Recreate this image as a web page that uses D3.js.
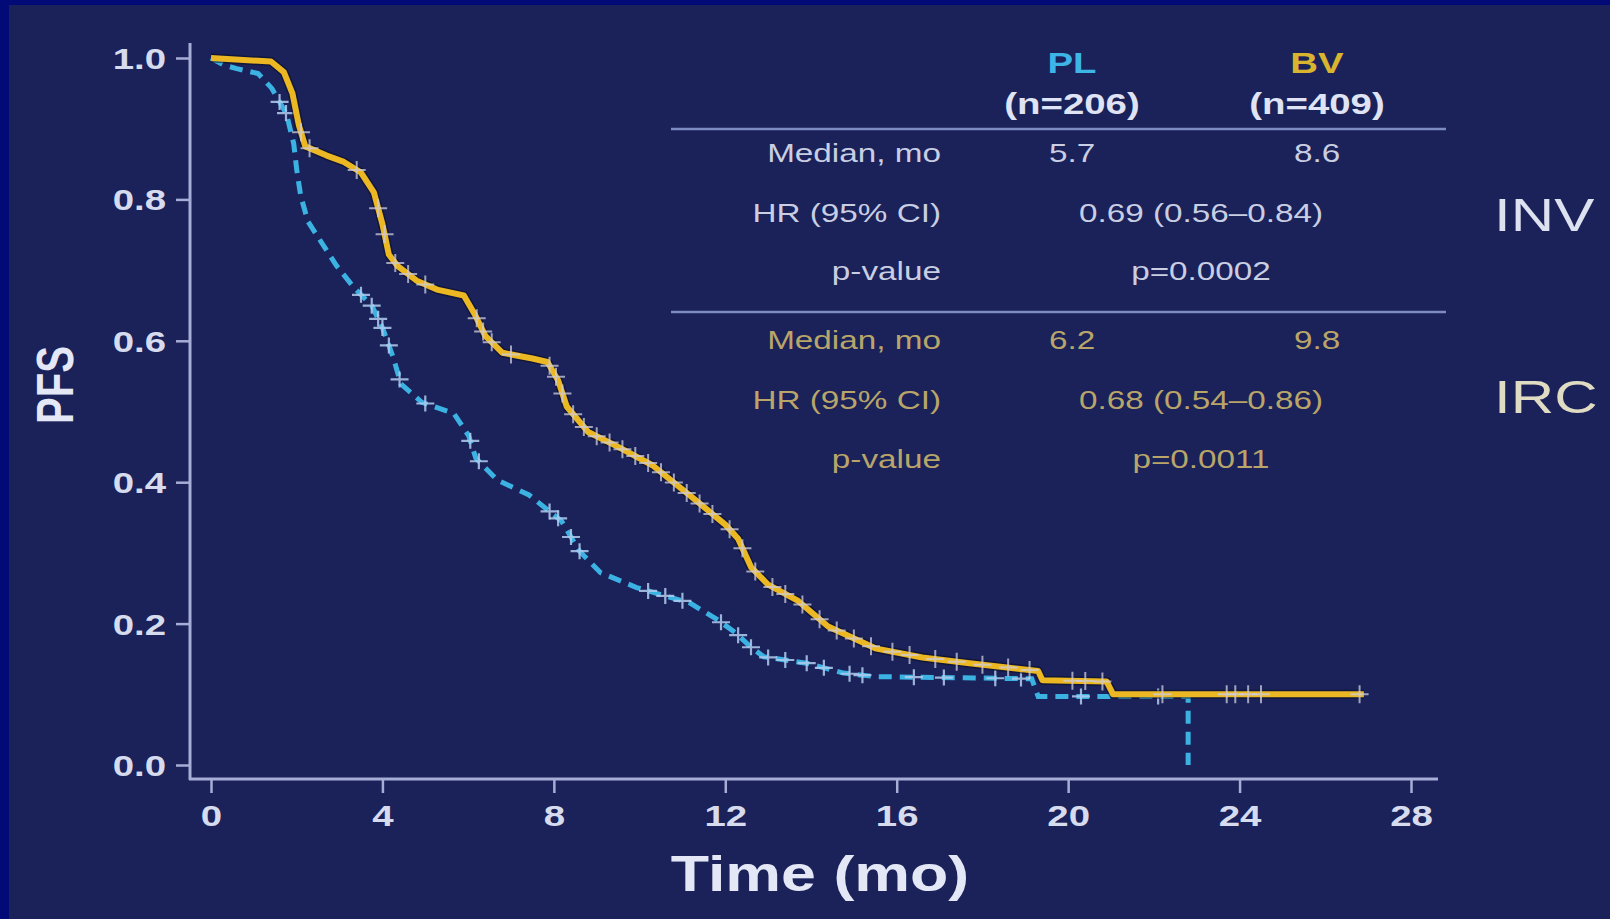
<!DOCTYPE html>
<html><head><meta charset="utf-8">
<script src="https://cdn.jsdelivr.net/npm/d3@7"></script>
<style>
body{margin:0;background:#1a2259;overflow:hidden}
text{font-family:"Liberation Sans",Arial,sans-serif}
</style>
</head><body>
<svg id="c" width="1610" height="919"></svg>
<script>
// ---------- data ----------
const bvTime = [0, 1.4, 1.7, 1.9, 2.05, 2.2, 2.7, 3.1, 3.5, 3.8, 4.0, 4.15, 4.35, 4.8, 5.3, 5.9, 6.15, 6.4, 6.8, 7.5, 7.85, 8.1, 8.3, 8.8, 9.5, 10.3, 11.2, 12.0, 12.3, 12.6, 13.0, 13.7, 14.4, 15.5, 16.6, 17.7, 19.3, 19.4, 20.9, 21.05, 26.9];
const bvSurv = [1.0, 0.995, 0.98, 0.95, 0.905, 0.875, 0.862, 0.853, 0.838, 0.81, 0.765, 0.722, 0.706, 0.685, 0.672, 0.664, 0.638, 0.607, 0.583, 0.575, 0.57, 0.544, 0.507, 0.471, 0.45, 0.424, 0.38, 0.34, 0.32, 0.28, 0.255, 0.232, 0.196, 0.165, 0.152, 0.144, 0.133, 0.12, 0.118, 0.10, 0.10];
const plTime = [0, 0.3, 0.6, 1.1, 1.42, 1.76, 1.93, 2.0, 2.09, 2.26, 2.59, 2.93, 3.34, 3.76, 4.01, 4.26, 4.43, 4.92, 5.67, 6.01, 6.18, 6.68, 7.42, 8.18, 8.59, 9.09, 9.93, 11.18, 11.83, 12.26, 12.59, 12.9, 13.9, 14.76, 15.5, 19.15, 19.3, 22.8, 22.8];
const plSurv = [1.0, 0.99, 0.985, 0.978, 0.957, 0.921, 0.879, 0.842, 0.806, 0.769, 0.738, 0.706, 0.675, 0.649, 0.617, 0.575, 0.539, 0.513, 0.497, 0.466, 0.434, 0.403, 0.382, 0.345, 0.303, 0.272, 0.251, 0.229, 0.205, 0.186, 0.167, 0.153, 0.144, 0.13, 0.125, 0.122, 0.097, 0.097, 0.0];
const bvCensor = [2.1, 2.3, 3.4, 3.9, 4.05, 4.3, 4.6, 5.0, 6.2, 6.35, 6.55, 7.0, 7.9, 8.05, 8.2, 8.45, 8.7, 9.0, 9.3, 9.6, 9.9, 10.2, 10.5, 10.8, 11.1, 11.4, 11.7, 12.1, 12.4, 12.7, 13.1, 13.4, 13.8, 14.2, 14.6, 15.0, 15.4, 15.9, 16.3, 16.9, 17.4, 18.0, 18.6, 19.1, 20.1, 20.4, 20.8, 22.2, 23.7, 23.9, 24.2, 24.5, 26.8];
const plCensor = [1.6, 1.75, 3.5, 3.75, 3.9, 4.0, 4.15, 4.4, 5.0, 6.05, 6.25, 7.9, 8.1, 8.4, 8.6, 10.2, 10.6, 11.0, 11.9, 12.3, 12.6, 13.0, 13.4, 13.9, 14.3, 14.9, 15.2, 16.4, 17.1, 18.3, 18.9, 20.3, 22.1];
const xTicks = [0, 4, 8, 12, 16, 20, 24, 28];
const yTicks = [0, 0.2, 0.4, 0.6, 0.8, 1.0];
const armNames = ["PL", "BV"];
const armN = ["(n=206)", "(n=409)"];
const rowLabels = ["Median, mo", "HR (95% CI)", "p-value"];
const invMedians = ["5.7", "8.6"];
const invHR = "0.69 (0.56–0.84)";
const invP = "p=0.0002";
const ircMedians = ["6.2", "9.8"];
const ircHR = "0.68 (0.54–0.86)";
const ircP = "p=0.0011";
const groupLabels = ["INV", "IRC"];

// ---------- setup ----------
const SX = 1.28; // horizontal text stretch of the source slide
const svg = d3.select("#c");
svg.append("rect").attr("width",1610).attr("height",919).attr("fill","#1a2259");
svg.append("rect").attr("width",9).attr("height",919).attr("fill","#020a78");
svg.append("rect").attr("width",1610).attr("height",5).attr("fill","#020a78");

const x = d3.scaleLinear().domain([0, 28]).range([211, 1411]);
const y = d3.scaleLinear().domain([0, 1]).range([765, 58]);
const axisCol = "#a6aed8", labCol = "#d6dbee";

// axis lines
svg.append("line").attr("x1",190).attr("x2",190).attr("y1",43).attr("y2",780)
  .attr("stroke",axisCol).attr("stroke-width",3);
svg.append("line").attr("x1",189).attr("x2",1438).attr("y1",779).attr("y2",779)
  .attr("stroke",axisCol).attr("stroke-width",3);

const gy = svg.append("g").attr("transform","translate(190,0)")
  .call(d3.axisLeft(y).tickValues(yTicks).tickSize(14).tickFormat(d3.format(".1f")));
gy.select(".domain").remove();
gy.selectAll(".tick line").attr("stroke",axisCol).attr("stroke-width",2.5);
gy.selectAll(".tick text").attr("x",null).attr("dy",null)
  .attr("transform",`translate(-24,0) scale(${SX},1)`).attr("dominant-baseline","central")
  .attr("fill",labCol).attr("font-size",30).attr("font-weight","bold")
  .attr("font-family","Liberation Sans, Arial, sans-serif");

const gx = svg.append("g").attr("transform","translate(0,779)")
  .call(d3.axisBottom(x).tickValues(xTicks).tickSize(14).tickFormat(d3.format("d")));
gx.select(".domain").remove();
gx.selectAll(".tick line").attr("stroke",axisCol).attr("stroke-width",2.5);
gx.selectAll(".tick text").attr("y",null).attr("dy",null)
  .attr("transform",`translate(0,37) scale(${SX},1)`).attr("dominant-baseline","central")
  .attr("fill",labCol).attr("font-size",30).attr("font-weight","bold")
  .attr("font-family","Liberation Sans, Arial, sans-serif");

// axis titles
svg.append("text").attr("transform",`translate(55,385) scale(${SX},1) rotate(-90)`)
  .attr("text-anchor","middle").attr("dominant-baseline","central")
  .attr("fill","#e4e8f6").attr("font-size",40).attr("font-weight","bold").text("PFS");
svg.append("text").attr("transform",`translate(820,891) scale(${SX},1)`)
  .attr("text-anchor","middle").attr("fill","#e4e8f6")
  .attr("font-size",49).attr("font-weight","bold").text("Time (mo)");

// ---------- curves ----------
const line = (ts) => d3.line().x((d,i)=>x(ts[i])).y(d=>y(d)).curve(d3.curveLinear);
function survAt(ts, ss, t){
  const i = d3.bisectRight(ts, t);
  if (i <= 0) return ss[0];
  if (i >= ts.length) return ss[ss.length-1];
  const t0 = ts[i-1], t1 = ts[i];
  return t1 === t0 ? ss[i-1] : ss[i-1] + (ss[i]-ss[i-1])*(t-t0)/(t1-t0);
}

// PL dashed cyan
svg.append("path").attr("d", line(plTime)(plSurv)).attr("fill","none")
  .attr("stroke","#3bb2e2").attr("stroke-width",5).attr("stroke-dasharray","13,8");
svg.append("g").selectAll("path").data(plCensor).join("path")
  .attr("d", t => { const cx=x(t), cy=y(survAt(plTime,plSurv,t)); return `M${cx-9},${cy}H${cx+9}M${cx},${cy-8}V${cy+8}`; })
  .attr("stroke","#b2cdf0").attr("stroke-width",2.2).attr("opacity",0.85);

// BV solid gold
svg.append("path").attr("d", line(bvTime)(bvSurv)).attr("fill","none")
  .attr("stroke","#0c0c20").attr("stroke-opacity",0.55).attr("stroke-width",9).attr("stroke-linejoin","round");
svg.append("path").attr("d", line(bvTime)(bvSurv)).attr("fill","none")
  .attr("stroke","#ebb823").attr("stroke-width",6).attr("stroke-linejoin","round");
svg.append("g").selectAll("path").data(bvCensor).join("path")
  .attr("d", t => { const cx=x(t), cy=y(survAt(bvTime,bvSurv,t)); return `M${cx-9},${cy}H${cx+9}M${cx},${cy-9}V${cy+9}`; })
  .attr("stroke","#cfcedf").attr("stroke-width",2).attr("opacity",0.75);

// ---------- table ----------
const colX = [1072, 1317], midX = 1201, labX = 941;
const tbl = svg.append("g");
function txt(xp, yp, s, opt){
  return tbl.append("text").attr("transform",`translate(${xp},${yp}) scale(${SX},1)`)
    .attr("text-anchor", opt.anchor || "middle").attr("dominant-baseline","central")
    .attr("fill", opt.fill).attr("font-size", opt.size).attr("font-weight", opt.weight || "normal").text(s);
}
txt(colX[0], 63, armNames[0], {fill:"#3db5e6", size:30, weight:"bold"});
txt(colX[1], 63, armNames[1], {fill:"#d9b42e", size:30, weight:"bold"});
armN.forEach((s,i)=> txt(colX[i], 104, s, {fill:"#dfe3f3", size:30, weight:"bold"}));
tbl.append("line").attr("x1",671).attr("x2",1446).attr("y1",129).attr("y2",129).attr("stroke","#7d8bc2").attr("stroke-width",2.5);
tbl.append("line").attr("x1",671).attr("x2",1446).attr("y1",312).attr("y2",312).attr("stroke","#7d8bc2").attr("stroke-width",2.5);

const invCol = "#c9cee3", ircCol = "#b9a56a";
const invY = [153, 213, 271], ircY = [340, 400, 459];
rowLabels.forEach((s,i)=> txt(labX, invY[i], s, {fill:invCol, size:26, anchor:"end"}));
rowLabels.forEach((s,i)=> txt(labX, ircY[i], s, {fill:ircCol, size:26, anchor:"end"}));
invMedians.forEach((s,i)=> txt(colX[i], invY[0], s, {fill:invCol, size:26}));
ircMedians.forEach((s,i)=> txt(colX[i], ircY[0], s, {fill:ircCol, size:26}));
txt(midX, invY[1], invHR, {fill:invCol, size:26});
txt(midX, invY[2], invP, {fill:invCol, size:26});
txt(midX, ircY[1], ircHR, {fill:ircCol, size:26});
txt(midX, ircY[2], ircP, {fill:ircCol, size:26});

txt(1494, 214, groupLabels[0], {fill:"#dde2f1", size:47, anchor:"start"});
txt(1494, 396, groupLabels[1], {fill:"#e0dcc4", size:47, anchor:"start"});
</script>
</body></html>
